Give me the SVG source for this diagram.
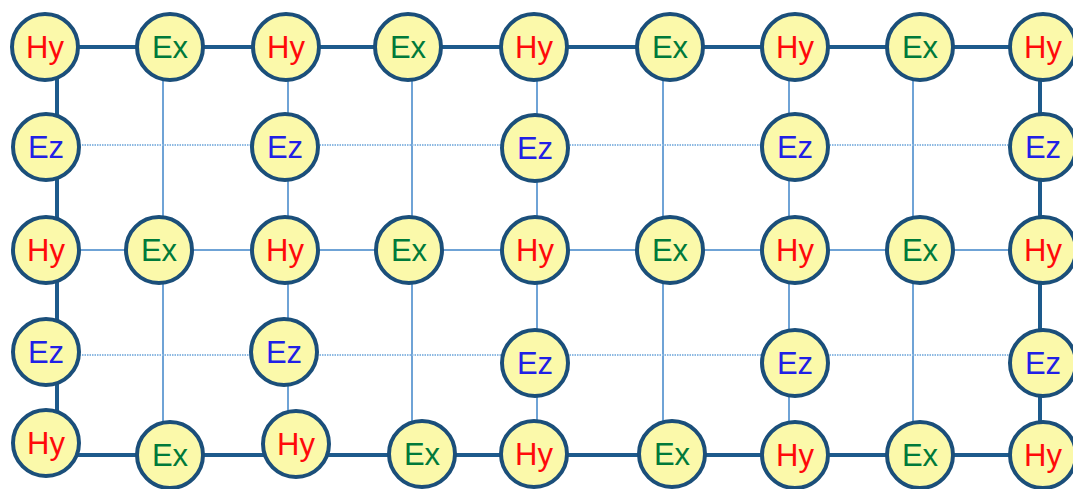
<svg xmlns="http://www.w3.org/2000/svg" width="1073" height="489" viewBox="0 0 1073 489">
<style>
.thick{stroke:#1d5a8c;stroke-width:4;fill:none}
.thin{stroke:#6fa3d6;stroke-width:2;fill:none}
.dot{stroke:#8cb9e2;stroke-width:2;stroke-dasharray:1.5 1;fill:none}
.n circle{fill:#fbf9aa;stroke:#1b4f7a;stroke-width:4}
.n text{font-family:"Liberation Sans",Arial,sans-serif;font-size:31px;text-anchor:middle}
.hy text{fill:#ff0a0a}
.ex text{fill:#007a3a}
.ez text{fill:#2020e6}
</style>
<rect width="1073" height="489" fill="#ffffff"/>
<g id="connectors">
<line class="thin" x1="163" y1="47" x2="163" y2="455"/>
<line class="thin" x1="288" y1="47" x2="288" y2="455"/>
<line class="thin" x1="412" y1="47" x2="412" y2="455"/>
<line class="thin" x1="537" y1="47" x2="537" y2="455"/>
<line class="thin" x1="663" y1="47" x2="663" y2="455"/>
<line class="thin" x1="789" y1="47" x2="789" y2="455"/>
<line class="thin" x1="913" y1="47" x2="913" y2="455"/>
<line class="thin" x1="57" y1="250" x2="1040" y2="250"/>
<line class="dot" x1="57" y1="145" x2="1040" y2="145"/>
<line class="dot" x1="57" y1="355" x2="1040" y2="355"/>
<line class="thick" x1="45" y1="47" x2="1045" y2="47"/>
<line class="thick" x1="45" y1="455" x2="1045" y2="455"/>
<line class="thick" x1="57" y1="47" x2="57" y2="443"/>
<line class="thick" x1="1040" y1="47" x2="1040" y2="455"/>
</g>
<g id="r1c1" class="n hy"><circle cx="45" cy="47" r="33"/><text x="45" y="58">Hy</text></g>
<g id="r1c2" class="n ex"><circle cx="170" cy="47" r="33"/><text x="170" y="58">Ex</text></g>
<g id="r1c3" class="n hy"><circle cx="286" cy="47" r="33"/><text x="286" y="58">Hy</text></g>
<g id="r1c4" class="n ex"><circle cx="408" cy="47" r="33"/><text x="408" y="58">Ex</text></g>
<g id="r1c5" class="n hy"><circle cx="534" cy="47" r="33"/><text x="534" y="58">Hy</text></g>
<g id="r1c6" class="n ex"><circle cx="670" cy="47" r="33"/><text x="670" y="58">Ex</text></g>
<g id="r1c7" class="n hy"><circle cx="795" cy="47" r="33"/><text x="795" y="58">Hy</text></g>
<g id="r1c8" class="n ex"><circle cx="920" cy="47" r="33"/><text x="920" y="58">Ex</text></g>
<g id="r1c9" class="n hy"><circle cx="1043" cy="47" r="33"/><text x="1043" y="58">Hy</text></g>

<g id="r2c1" class="n ez"><circle cx="46" cy="147" r="33"/><text x="46" y="158">Ez</text></g>
<g id="r2c3" class="n ez"><circle cx="285" cy="147" r="33"/><text x="285" y="158">Ez</text></g>
<g id="r2c5" class="n ez"><circle cx="535" cy="148" r="33"/><text x="535" y="159">Ez</text></g>
<g id="r2c7" class="n ez"><circle cx="795" cy="147" r="33"/><text x="795" y="158">Ez</text></g>
<g id="r2c9" class="n ez"><circle cx="1043" cy="147" r="33"/><text x="1043" y="158">Ez</text></g>

<g id="r3c1" class="n hy"><circle cx="46" cy="250" r="33"/><text x="46" y="261">Hy</text></g>
<g id="r3c2" class="n ex"><circle cx="159" cy="250" r="33"/><text x="159" y="261">Ex</text></g>
<g id="r3c3" class="n hy"><circle cx="285" cy="250" r="33"/><text x="285" y="261">Hy</text></g>
<g id="r3c4" class="n ex"><circle cx="409" cy="250" r="33"/><text x="409" y="261">Ex</text></g>
<g id="r3c5" class="n hy"><circle cx="535" cy="250" r="33"/><text x="535" y="261">Hy</text></g>
<g id="r3c6" class="n ex"><circle cx="670" cy="250" r="33"/><text x="670" y="261">Ex</text></g>
<g id="r3c7" class="n hy"><circle cx="795" cy="250" r="33"/><text x="795" y="261">Hy</text></g>
<g id="r3c8" class="n ex"><circle cx="920" cy="250" r="33"/><text x="920" y="261">Ex</text></g>
<g id="r3c9" class="n hy"><circle cx="1043" cy="250" r="33"/><text x="1043" y="261">Hy</text></g>

<g id="r4c1" class="n ez"><circle cx="46" cy="352" r="33"/><text x="46" y="363">Ez</text></g>
<g id="r4c3" class="n ez"><circle cx="284" cy="352" r="33"/><text x="284" y="363">Ez</text></g>
<g id="r4c5" class="n ez"><circle cx="535" cy="363" r="33"/><text x="535" y="374">Ez</text></g>
<g id="r4c7" class="n ez"><circle cx="795" cy="363" r="33"/><text x="795" y="374">Ez</text></g>
<g id="r4c9" class="n ez"><circle cx="1043" cy="363" r="33"/><text x="1043" y="374">Ez</text></g>

<g id="r5c1" class="n hy"><circle cx="46" cy="443" r="33"/><text x="46" y="454">Hy</text></g>
<g id="r5c2" class="n ex"><circle cx="170" cy="455" r="33"/><text x="170" y="466">Ex</text></g>
<g id="r5c3" class="n hy"><circle cx="296" cy="444" r="33"/><text x="296" y="455">Hy</text></g>
<g id="r5c4" class="n ex"><circle cx="422" cy="454" r="33"/><text x="422" y="465">Ex</text></g>
<g id="r5c5" class="n hy"><circle cx="534" cy="454" r="33"/><text x="534" y="465">Hy</text></g>
<g id="r5c6" class="n ex"><circle cx="672" cy="454" r="33"/><text x="672" y="465">Ex</text></g>
<g id="r5c7" class="n hy"><circle cx="795" cy="455" r="33"/><text x="795" y="466">Hy</text></g>
<g id="r5c8" class="n ex"><circle cx="920" cy="455" r="33"/><text x="920" y="466">Ex</text></g>
<g id="r5c9" class="n hy"><circle cx="1043" cy="455" r="33"/><text x="1043" y="466">Hy</text></g>
</svg>
